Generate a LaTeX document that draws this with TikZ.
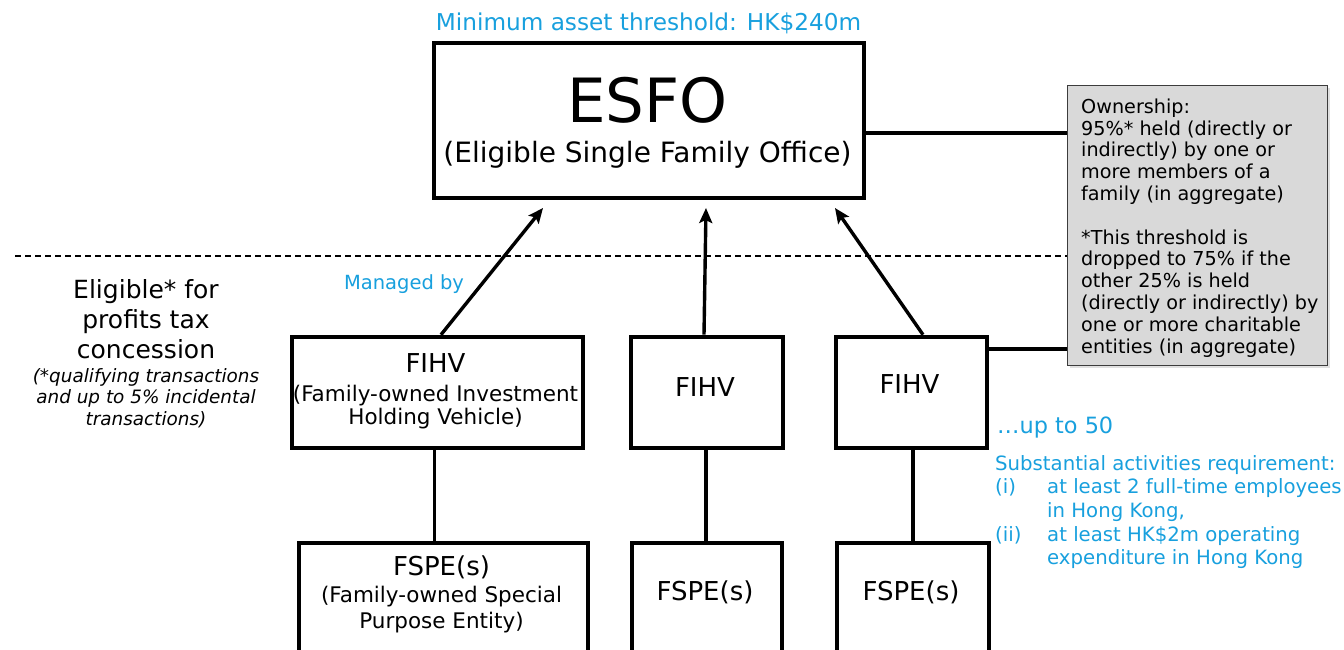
\documentclass[tikz,border=0pt]{standalone}
\usepackage{fontspec}
\setmainfont{DejaVu Sans}
\usetikzlibrary{arrows.meta,calc}
\definecolor{cyanblue}{RGB}{24,160,222}
\definecolor{boxgray}{RGB}{217,217,217}
\definecolor{edgegray}{RGB}{60,60,60}
\newcommand{\fsz}[2]{\fontsize{#1}{#2}\selectfont}
\begin{document}
\begin{tikzpicture}[x=1pt,y=-1pt,
  bx/.style={draw=black, line width=4pt, fill=white, inner sep=0, anchor=north west},
  conn/.style={line width=3.4pt, draw=black},
  arr/.style={conn, -{Stealth[length=15pt,width=13pt,inset=3pt]}},
  txt/.style={inner sep=0, anchor=base},
  ltxt/.style={inner sep=0, anchor=base west},
  blue/.style={text=cyanblue}]
\useasboundingbox (0,0) rectangle (1344,649);
\clip (0,0) rectangle (1344,649);
\fill[white] (0,0) rectangle (1344,649);

% dashed separator
\coordinate (dl) at (15,256);

% ownership box
\fill[black!12] (1069.5,87.5) rectangle (1329.5,367.5);
\node[draw=edgegray, line width=1.3pt, fill=boxgray, minimum width=260, minimum height=280, inner sep=0, anchor=north west] (own) at (1067,85) {};
\node[inner sep=0, anchor=north west, align=left, font=\fsz{19.2}{21.8}] (owntext) at (1081,98.5)
{Ownership:\\95\%* held (directly or\\indirectly) by one or\\more members of a\\family (in aggregate)\\[21.8pt]*This threshold is\\dropped to 75\% if the\\other 25\% is held\\(directly or indirectly) by\\one or more charitable\\entities (in aggregate)};

\draw[line width=1.3pt, dash pattern=on 6pt off 4pt] (dl) -- (dl -| own.west);

% main boxes
\node[bx, minimum width=430, minimum height=155] (esfo) at (431.7,40.7) {};
\node[bx, minimum width=291.6, minimum height=111.6] (fihv1) at (289.7,334.7) {};
\node[bx, minimum width=152.6, minimum height=111.6] (fihv2) at (628.7,334.7) {};
\node[bx, minimum width=151.6, minimum height=111.6] (fihv3) at (833.7,334.7) {};
\node[bx, minimum width=289.6, minimum height=130] (fspe1) at (296.7,540.7) {};
\node[bx, minimum width=150.6, minimum height=130] (fspe2) at (629.7,540.7) {};
\node[bx, minimum width=152.6, minimum height=130] (fspe3) at (834.7,540.7) {};

% texts in boxes
\node[txt, font=\fsz{23.2}{26}, blue] (title) at (648.5,30) {Minimum asset threshold: HK\$240m};
\node[txt, font=\fsz{61}{64}] (esfoa) at (647.5,122) {ESFO};
\node[txt, font=\fsz{28}{30}] (esfob) at (647.5,162) {(Eligible Single Family Office)};

\node[txt, font=\fsz{26}{28}] (fihv1a) at (435.5,372) {FIHV};
\node[txt, font=\fsz{21.5}{23}] (fihv1b) at (435.5,401) {(Family-owned Investment};
\node[txt, font=\fsz{21.5}{23}] (fihv1c) at (435.5,424) {Holding Vehicle)};
\node[txt, font=\fsz{26}{28}] (fihv2a) at (705,396) {FIHV};
\node[txt, font=\fsz{26}{28}] (fihv3a) at (909.5,393) {FIHV};

\node[txt, font=\fsz{26}{28}] (fspe1a) at (441.5,575) {FSPE(s)};
\node[txt, font=\fsz{21.5}{23}] (fspe1b) at (441.5,602) {(Family-owned Special};
\node[txt, font=\fsz{21.5}{23}] (fspe1c) at (441.5,628) {Purpose Entity)};
\node[txt, font=\fsz{26}{28}] (fspe2a) at (705,600) {FSPE(s)};
\node[txt, font=\fsz{26}{28}] (fspe3a) at (911,600) {FSPE(s)};

% left annotation
\node[txt, font=\fsz{25}{28}] (el1) at (146,298) {Eligible* for};
\node[txt, font=\fsz{25}{28}] (el2) at (146,328) {profits tax};
\node[txt, font=\fsz{25}{28}] (el3) at (146,358) {concession};
\node[txt, font=\fsz{18.4}{21}\itshape] (it1) at (146,382) {(*qualifying transactions};
\node[txt, font=\fsz{18.4}{21}\itshape] (it2) at (146,403) {and up to 5\% incidental};
\node[txt, font=\fsz{18.4}{21}\itshape] (it3) at (146,425) {transactions)};

\node[txt, font=\fsz{19.5}{22}, blue] (managed) at (404,289) {Managed by};

% right annotation
\node[ltxt, font=\fsz{22.4}{25}, blue] (upto) at (997,433) {…up to 50};
\node[ltxt, font=\fsz{19.7}{23}, blue] (subst) at (995,470) {Substantial activities requirement:};
\node[ltxt, font=\fsz{19.7}{23}, blue] (ri) at (995,493) {(i)};
\node[ltxt, font=\fsz{19.7}{23}, blue] (ri1) at (1047,493) {at least 2 full-time employees};
\node[ltxt, font=\fsz{19.7}{23}, blue] (ri2) at (1047,517) {in Hong Kong,};
\node[ltxt, font=\fsz{19.7}{23}, blue] (rii) at (995,541) {(ii)};
\node[ltxt, font=\fsz{19.7}{23}, blue] (rii1) at (1047,541) {at least HK\$2m operating};
\node[ltxt, font=\fsz{19.7}{23}, blue] (rii2) at (1047,564) {expenditure in Hong Kong};

% arrow targets below ESFO
\coordinate (t1) at (543,208);
\coordinate (t2) at (706,208);
\coordinate (t3) at (835,208);

\draw[arr] (fihv1.north west) ++(151.3,0) -- (t1);
\draw[arr] (fihv2.north west) ++(75.3,0) -- (t2);
\draw[arr] (fihv3.north west) ++(89.3,0) -- (t3);

% vertical links
\draw[conn] (fihv1.south west) ++(144.8,0) -- ++(0,94.4);
\draw[conn] (fihv2.south west) ++(77.3,0) -- ++(0,94.4);
\draw[conn] (fihv3.south west) ++(79.3,0) -- ++(0,94.4);

% links to ownership box
\draw[conn] (esfo.east) ++(0,12.7) coordinate (c1) -- (c1 -| own.west);
\draw[conn] (fihv3.east) ++(0,-43.5) coordinate (c2) -- (c2 -| own.west);
\end{tikzpicture}
\end{document}
